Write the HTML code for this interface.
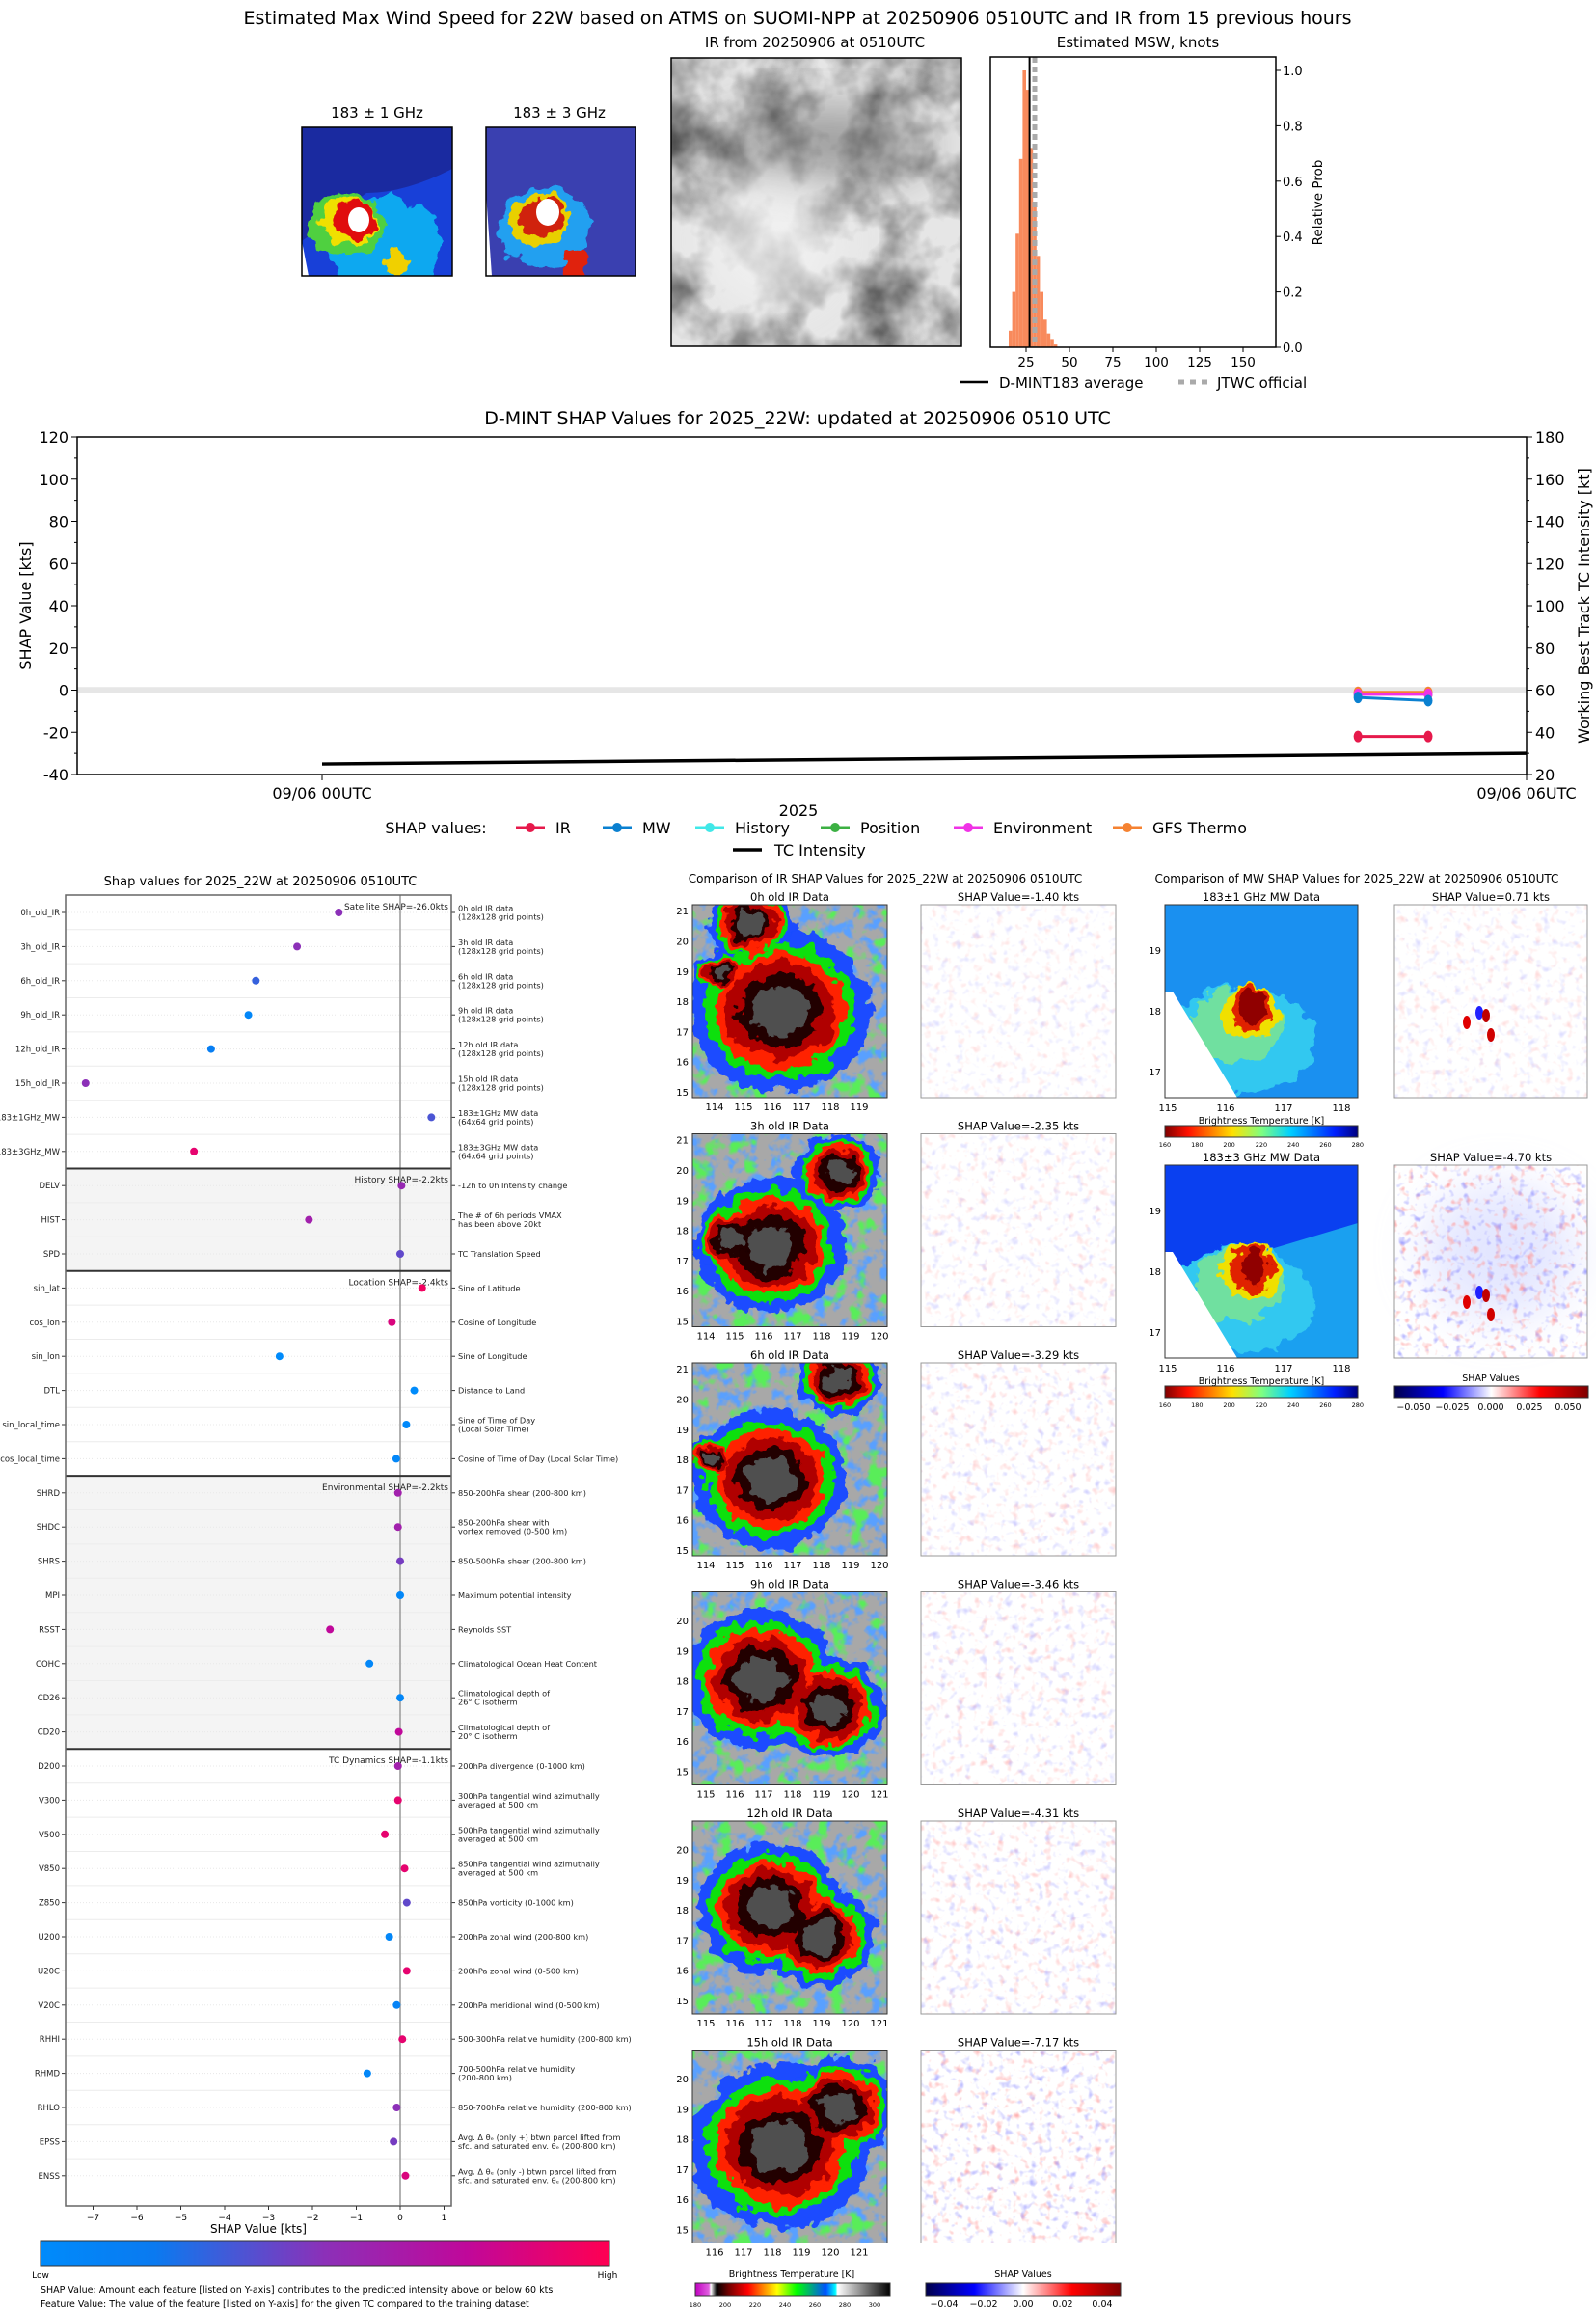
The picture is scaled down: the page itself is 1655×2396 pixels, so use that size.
<!DOCTYPE html>
<html><head><meta charset="utf-8"><style>
html,body{margin:0;padding:0;background:#fff}
svg{display:block;font-family:"DejaVu Sans","Liberation Sans",sans-serif}
</style></head><body>
<svg id="root" width="1655" height="2396" viewBox="0 0 1655 2396" xmlns="http://www.w3.org/2000/svg">
<defs>
 <filter id="rough" x="-20%" y="-20%" width="140%" height="140%">
  <feTurbulence type="fractalNoise" baseFrequency="0.06" numOctaves="3" seed="4" result="n"/>
  <feDisplacementMap in="SourceGraphic" in2="n" scale="22" xChannelSelector="R" yChannelSelector="G"/>
 </filter>
 <filter id="blur" x="-50%" y="-50%" width="200%" height="200%"><feGaussianBlur stdDeviation="25"/></filter>
 <filter id="cloud" x="0" y="0" width="100%" height="100%">
  <feTurbulence type="fractalNoise" baseFrequency="0.018" numOctaves="4" seed="9"/>
  <feColorMatrix type="matrix" values="0 0 0 0 0  0 0 0 0 0  0 0 0 0 0  -1.6 0 0 0 1.05"/>
 </filter>
 <filter id="bgblue" x="0" y="0" width="100%" height="100%">
  <feTurbulence type="fractalNoise" baseFrequency="0.07" numOctaves="3" seed="5"/>
  <feColorMatrix type="matrix" values="0 0 0 0 0.1  0 0 0 0 0.35  0 0 0 0 1  5 0 0 0 -2.4"/>
 </filter>
 <filter id="bggreen" x="0" y="0" width="100%" height="100%">
  <feTurbulence type="fractalNoise" baseFrequency="0.05" numOctaves="3" seed="12"/>
  <feColorMatrix type="matrix" values="0 0 0 0 0.1  0 0 0 0 0.85  0 0 0 0 0.1  6 0 0 0 -3.3"/>
 </filter>
 <filter id="speck" x="0" y="0" width="100%" height="100%">
  <feTurbulence type="fractalNoise" baseFrequency="0.12" numOctaves="2" seed="3"/>
  <feColorMatrix type="matrix" values="0 0 0 0 1  0 0 0 0 0.3  0 0 0 0 0.3  3 0 0 0 -1.75"/>
 </filter>
 <filter id="speckb" x="0" y="0" width="100%" height="100%">
  <feTurbulence type="fractalNoise" baseFrequency="0.12" numOctaves="2" seed="8"/>
  <feColorMatrix type="matrix" values="0 0 0 0 0.3  0 0 0 0 0.3  0 0 0 0 1  3 0 0 0 -1.75"/>
 </filter>
 <clipPath id="tmw1"><rect x="313" y="132" width="156" height="154"/></clipPath>
 <clipPath id="tmw3"><rect x="504" y="132" width="155" height="154"/></clipPath>
 <clipPath id="tir"><rect x="696" y="60" width="301" height="299"/></clipPath>
 <linearGradient id="shapcm" x1="0" x2="1"><stop offset="0" stop-color="#008bfb"/><stop offset="0.2" stop-color="#0a7af0"/><stop offset="0.5" stop-color="#8c30b8"/><stop offset="0.75" stop-color="#c0089a"/><stop offset="1" stop-color="#ff0052"/></linearGradient>
 <linearGradient id="jetr" x1="0" x2="1"><stop offset="0" stop-color="#800000"/><stop offset="0.12" stop-color="#ff1000"/><stop offset="0.35" stop-color="#ffe000"/><stop offset="0.5" stop-color="#80ff80"/><stop offset="0.65" stop-color="#00d0ff"/><stop offset="0.88" stop-color="#0020ff"/><stop offset="1" stop-color="#000080"/></linearGradient>
 <linearGradient id="seis" x1="0" x2="1"><stop offset="0" stop-color="#00004c"/><stop offset="0.25" stop-color="#0000ff"/><stop offset="0.5" stop-color="#ffffff"/><stop offset="0.75" stop-color="#ff0000"/><stop offset="1" stop-color="#800000"/></linearGradient>
 <linearGradient id="ircm" x1="0" x2="1"><stop offset="0" stop-color="#c000c0"/><stop offset="0.07" stop-color="#e060e0"/><stop offset="0.08" stop-color="#ffffff"/><stop offset="0.11" stop-color="#000000"/><stop offset="0.17" stop-color="#700000"/><stop offset="0.27" stop-color="#ff0000"/><stop offset="0.42" stop-color="#ffff00"/><stop offset="0.52" stop-color="#00ff00"/><stop offset="0.67" stop-color="#0050ff"/><stop offset="0.72" stop-color="#00ffff"/><stop offset="0.73" stop-color="#ffffff"/><stop offset="1" stop-color="#000000"/></linearGradient>
</defs>

<text x="827" y="25" font-size="19" text-anchor="middle">Estimated Max Wind Speed for 22W based on ATMS on SUOMI-NPP at 20250906 0510UTC and IR from 15 previous hours</text>

<g>
 <text x="391" y="122" font-size="15" text-anchor="middle">183 ± 1 GHz</text>
 <g clip-path="url(#tmw1)">
 <rect x="313" y="132" width="156" height="154" fill="#1840d8"/>
 <path d="M313 132 H469 V175 Q420 200 380 200 Q340 230 313 250 Z" fill="#1a2aa0"/>
 <g filter="url(#rough)"><ellipse cx="400" cy="255" rx="60" ry="50" fill="#10a8f0"/><ellipse cx="360" cy="232" rx="40" ry="32" fill="#50d040"/><ellipse cx="362" cy="230" rx="30" ry="25" fill="#f0e000"/><ellipse cx="368" cy="228" rx="22" ry="21" fill="#e01010"/><ellipse cx="410" cy="275" rx="10" ry="16" fill="#f0d000"/></g>
 <ellipse cx="372" cy="228" rx="11" ry="13" fill="#fff"/>
 <path d="M313 250 L320 286 L313 286Z" fill="#fff"/>
 </g>
 <rect x="313" y="132" width="156" height="154" fill="none" stroke="#000" stroke-width="1.5"/>
</g>
<g>
 <text x="580" y="122" font-size="15" text-anchor="middle">183 ± 3 GHz</text>
 <g clip-path="url(#tmw3)">
 <rect x="504" y="132" width="155" height="154" fill="#3a40b0"/>
 <g filter="url(#rough)"><ellipse cx="565" cy="235" rx="48" ry="42" fill="#20a0f0"/><ellipse cx="560" cy="228" rx="33" ry="27" fill="#e8d000"/><ellipse cx="562" cy="226" rx="25" ry="21" fill="#d02010"/><ellipse cx="595" cy="275" rx="12" ry="16" fill="#e02010"/></g>
 <ellipse cx="568" cy="220" rx="12" ry="14" fill="#fff"/>
 <path d="M504 200 L510 286 L504 286Z" fill="#fff"/>
 </g>
 <rect x="504" y="132" width="155" height="154" fill="none" stroke="#000" stroke-width="1.5"/>
</g>
<g>
 <text x="845" y="49" font-size="15" text-anchor="middle">IR from 20250906 at 0510UTC</text>
 <g clip-path="url(#tir)">
 <rect x="696" y="60" width="301" height="299" fill="#e6e6e6"/>
 <rect x="696" y="60" width="301" height="299" fill="#000" filter="url(#cloud)" opacity="0.7"/>
 <ellipse cx="850" cy="150" rx="120" ry="40" fill="#303030" opacity="0.4" filter="url(#blur)"/>
 <ellipse cx="800" cy="250" rx="70" ry="70" fill="#f4f4f4" opacity="0.7" filter="url(#blur)"/>
 </g>
 <rect x="696" y="60" width="301" height="299" fill="none" stroke="#000" stroke-width="1.5"/>
</g>
<g id="hist">
 <text x="1180" y="49" font-size="15" text-anchor="middle">Estimated MSW, knots</text>
</g>

<g id="tl">
 <text x="827" y="440" font-size="19" text-anchor="middle">D-MINT SHAP Values for 2025_22W: updated at 20250906 0510 UTC</text>
</g>

<g id="summ">
 <text x="270" y="918" font-size="13" text-anchor="middle">Shap values for 2025_22W at 20250906 0510UTC</text>
</g>

<g id="imgs">
 <text x="918" y="915" font-size="12" text-anchor="middle">Comparison of IR SHAP Values for 2025_22W at 20250906 0510UTC</text>
 <text x="1407" y="915" font-size="12" text-anchor="middle">Comparison of MW SHAP Values for 2025_22W at 20250906 0510UTC</text>
</g>
</svg>

<script>
const NS='http://www.w3.org/2000/svg';
function mk(tag,attrs,parent,txt){const e=document.createElementNS(NS,tag);for(const k in attrs)e.setAttribute(k,attrs[k]);if(txt!==undefined)e.textContent=txt;parent.appendChild(e);return e;}

/* ---------- histogram data ---------- */
const histBins=[15,17,19,21,23,25,27,29,31,33,35,37,39,41];
const histProb=[0.06,0.2,0.41,0.68,1.0,0.93,0.72,0.52,0.33,0.2,0.1,0.05,0.03,0.01];
const histXTicks=[25,50,75,100,125,150];
const histYTicks=[0.0,0.2,0.4,0.6,0.8,1.0];
const dmintAvg=27;
const jtwcOfficial=30;
(function(){
 const g=document.getElementById('hist');
 const L=1027,R=1323,T=59,B=360;
 const hx=v=>1019+v*1.8;
 const hy=p=>B-p*(B-73);
 histBins.forEach((b,i)=>{const r=mk('rect',{x:hx(b),y:hy(histProb[i]),width:1.8*2,height:B-hy(histProb[i]),fill:'#f88a5c'},g);
  
  });
 const a=mk('line',{x1:hx(dmintAvg),x2:hx(dmintAvg),y1:T,y2:B,stroke:'#000','stroke-width':2},g);
 
 
 const j=mk('line',{x1:hx(jtwcOfficial),x2:hx(jtwcOfficial),y1:T,y2:B,stroke:'#aaa','stroke-width':5,'stroke-dasharray':'6 4'},g);
 
 
 mk('rect',{x:L,y:T,width:R-L,height:B-T,fill:'none',stroke:'#000','stroke-width':1.5},g);
 histXTicks.forEach(t=>{mk('line',{x1:hx(t),x2:hx(t),y1:B,y2:B+5,stroke:'#000'},g);mk('text',{x:hx(t),y:B+20,'font-size':13.5,'text-anchor':'middle'},g,t);});
 histYTicks.forEach(t=>{mk('line',{x1:R,x2:R+5,y1:hy(t),y2:hy(t),stroke:'#000'},g);mk('text',{x:R+7,y:hy(t)+5,'font-size':13},g,t.toFixed(1));});
 mk('text',{x:1371,y:210,'font-size':13.5,'text-anchor':'middle',transform:'rotate(-90 1371 210)'},g,'Relative Prob');
 const l1=mk('line',{x1:995,x2:1025,y1:396,y2:396,stroke:'#000','stroke-width':2.5},g);
 
 
 mk('text',{x:1036,y:402,'font-size':15},g,'D-MINT183 average');
 const l2=mk('line',{x1:1222,x2:1252,y1:396,y2:396,stroke:'#aaa','stroke-width':5,'stroke-dasharray':'6 6'},g);
 
 
 mk('text',{x:1262,y:402,'font-size':15},g,'JTWC official');
})();

/* ---------- timeline data ---------- */
const tlTimesHr=[5.16,5.51];
const tlIR=[-22,-22];
const tlMW=[-3.5,-5];
const tlHistory=[-1.5,-1.5];
const tlPosition=[-1.8,-1.8];
const tlEnv=[-2,-2];
const tlGFS=[-1,-1];
const tcTimesHr=[0,6];
const tcIntensity=[25,30];
const tlLeftTicks=[120,100,80,60,40,20,0,-20,-40];
const tlRightTicks=[180,160,140,120,100,80,60,40,20];
const tlXTickLabels=['09/06 00UTC','09/06 06UTC'];
(function(){
 const g=document.getElementById('tl');
 const L=80,R=1583,T=453,B=803;
 const tx=h=>334+h*(R-334)/6;
 const ly=v=>T+(120-v)*(B-T)/160;
 const ry=v=>T+(180-v)*(B-T)/160;
 mk('rect',{x:L,y:ly(1.5),width:R-L,height:ly(-1.5)-ly(1.5),fill:'#e6e6e6'},g);
 mk('rect',{x:L,y:T,width:R-L,height:B-T,fill:'none',stroke:'#000','stroke-width':1.5},g);
 tlLeftTicks.forEach(t=>{mk('line',{x1:L-6,x2:L,y1:ly(t),y2:ly(t),stroke:'#000'},g);mk('text',{x:L-9,y:ly(t)+6,'font-size':16,'text-anchor':'end'},g,t);});
 for(let t=-30;t<=110;t+=20)mk('line',{x1:L-3,x2:L,y1:ly(t),y2:ly(t),stroke:'#000'},g);
 tlRightTicks.forEach(t=>{mk('line',{x1:R,x2:R+6,y1:ry(t),y2:ry(t),stroke:'#000'},g);mk('text',{x:R+9,y:ry(t)+6,'font-size':16},g,t);});
 for(let t=30;t<=170;t+=20)mk('line',{x1:R,x2:R+3,y1:ry(t),y2:ry(t),stroke:'#000'},g);
 [0,6].forEach((h,i)=>{mk('line',{x1:tx(h),x2:tx(h),y1:B,y2:B+6,stroke:'#000'},g);mk('text',{x:tx(h),y:B+25,'font-size':16,'text-anchor':'middle'},g,tlXTickLabels[i]);});
 mk('text',{x:828,y:846,'font-size':16,'text-anchor':'middle'},g,'2025');
 mk('text',{x:32,y:628,'font-size':16,'text-anchor':'middle',transform:'rotate(-90 32 628)'},g,'SHAP Value [kts]');
 mk('text',{x:1648,y:628,'font-size':16,'text-anchor':'middle',transform:'rotate(-90 1648 628)'},g,'Working Best Track TC Intensity [kt]');
 const tc=mk('polyline',{points:tcTimesHr.map((h,i)=>tx(h)+','+ry(tcIntensity[i])).join(' '),fill:'none',stroke:'#000','stroke-width':3.5},g);
 
 
 const series=[['position',tlPosition,'#3cb043'],['history',tlHistory,'#40e8e8'],['gfs-thermo',tlGFS,'#f58231'],['environment',tlEnv,'#f032e6'],['mw',tlMW,'#0a80d0'],['ir',tlIR,'#e6194b']];
 series.forEach(s=>{
  const p=mk('polyline',{points:tlTimesHr.map((h,i)=>tx(h)+','+ly(s[1][i])).join(' '),fill:'none',stroke:s[2],'stroke-width':3},g);
  
  
  tlTimesHr.forEach((h,i)=>{const c=mk('ellipse',{cx:tx(h),cy:ly(s[1][i]),rx:4.5,ry:6,fill:s[2]},g);
   
   });
 });
 mk('text',{x:452,y:864,'font-size':16,'text-anchor':'middle'},g,'SHAP values:');
 const leg=[['IR','#e6194b',550,576],['MW','#0a80d0',640,666],['History','#40e8e8',736,762],['Position','#3cb043',866,892],['Environment','#f032e6',1004,1030],['GFS Thermo','#f58231',1169,1195]];
 leg.forEach(l=>{const lg=mk('g',{},g);
  
  
  mk('line',{x1:l[2]-15,x2:l[2]+15,y1:858,y2:858,stroke:l[1],'stroke-width':3},lg);
  mk('circle',{cx:l[2],cy:858,r:5,fill:l[1]},lg);
  mk('text',{x:l[3],y:864,'font-size':16},lg,l[0]);});
 const tl=mk('line',{x1:760,x2:790,y1:881,y2:881,stroke:'#000','stroke-width':3.5},g);
 
 
 mk('text',{x:803,y:887,'font-size':16},g,'TC Intensity');
})();

/* ---------- summary plot data ---------- */
const featNames=['0h_old_IR','3h_old_IR','6h_old_IR','9h_old_IR','12h_old_IR','15h_old_IR','183±1GHz_MW','183±3GHz_MW','DELV','HIST','SPD','sin_lat','cos_lon','sin_lon','DTL','sin_local_time','cos_local_time','SHRD','SHDC','SHRS','MPI','RSST','COHC','CD26','CD20','D200','V300','V500','V850','Z850','U200','U20C','V20C','RHHI','RHMD','RHLO','EPSS','ENSS'];
const shapVals=[-1.40,-2.35,-3.29,-3.46,-4.31,-7.17,0.71,-4.70,0.03,-2.08,0.0,0.5,-0.19,-2.75,0.32,0.14,-0.09,-0.05,-0.05,0.0,0.0,-1.6,-0.7,0.0,-0.03,-0.05,-0.05,-0.35,0.1,0.15,-0.25,0.15,-0.08,0.05,-0.75,-0.08,-0.15,0.12];
const featValFrac=[0.5,0.5,0.3,0.05,0.15,0.5,0.35,0.9,0.55,0.6,0.4,0.95,0.85,0.0,0.0,0.02,0.05,0.6,0.6,0.45,0.05,0.75,0.05,0.05,0.75,0.6,0.9,0.9,0.9,0.4,0.05,0.9,0.1,0.9,0.05,0.5,0.45,0.85];
const featDesc=[['0h old IR data','(128x128 grid points)'],['3h old IR data','(128x128 grid points)'],['6h old IR data','(128x128 grid points)'],['9h old IR data','(128x128 grid points)'],['12h old IR data','(128x128 grid points)'],['15h old IR data','(128x128 grid points)'],['183±1GHz MW data','(64x64 grid points)'],['183±3GHz MW data','(64x64 grid points)'],['-12h to 0h Intensity change'],['The # of 6h periods VMAX','has been above 20kt'],['TC Translation Speed'],['Sine of Latitude'],['Cosine of Longitude'],['Sine of Longitude'],['Distance to Land'],['Sine of Time of Day','(Local Solar Time)'],['Cosine of Time of Day (Local Solar Time)'],['850-200hPa shear (200-800 km)'],['850-200hPa shear with','vortex removed (0-500 km)'],['850-500hPa shear (200-800 km)'],['Maximum potential intensity'],['Reynolds SST'],['Climatological Ocean Heat Content'],['Climatological depth of','26° C isotherm'],['Climatological depth of','20° C isotherm'],['200hPa divergence (0-1000 km)'],['300hPa tangential wind azimuthally','averaged at 500 km'],['500hPa tangential wind azimuthally','averaged at 500 km'],['850hPa tangential wind azimuthally','averaged at 500 km'],['850hPa vorticity (0-1000 km)'],['200hPa zonal wind (200-800 km)'],['200hPa zonal wind (0-500 km)'],['200hPa meridional wind (0-500 km)'],['500-300hPa relative humidity (200-800 km)'],['700-500hPa relative humidity','(200-800 km)'],['850-700hPa relative humidity (200-800 km)'],['Avg. Δ θₑ (only +) btwn parcel lifted from','sfc. and saturated env. θₑ (200-800 km)'],['Avg. Δ θₑ (only -) btwn parcel lifted from','sfc. and saturated env. θₑ (200-800 km)']];
const groupStarts=[0,8,11,17,25];
const groupTitles=['Satellite SHAP=-26.0kts','History SHAP=-2.2kts','Location SHAP=-2.4kts','Environmental SHAP=-2.2kts','TC Dynamics SHAP=-1.1kts'];
const summXTicks=[-7,-6,-5,-4,-3,-2,-1,0,1];
(function(){
 const g=document.getElementById('summ');
 const L=68,R=468,T=928,B=2287;
 const sx=v=>415+v*45.5;
 const ry=i=>946+i*35.4;
 const bnd=i=>i===0?T:(i>=38?B:ry(i)-17.7);
 [[8,11],[17,25]].forEach(a=>mk('rect',{x:L,y:bnd(a[0]),width:R-L,height:bnd(a[1])-bnd(a[0]),fill:'#f4f4f4'},g));
 featNames.forEach((n,i)=>{
  mk('line',{x1:L,x2:R,y1:ry(i),y2:ry(i),stroke:'#e8e8e8','stroke-dasharray':'1 2'},g);
  if(i>0)mk('line',{x1:L,x2:R,y1:bnd(i),y2:bnd(i),stroke:'#ececec'},g);
  mk('line',{x1:L-4,x2:L,y1:ry(i),y2:ry(i),stroke:'#333'},g);
  mk('text',{x:L-6,y:ry(i)+3,'font-size':8.5,'text-anchor':'end',fill:'#222'},g,n);
  mk('line',{x1:R,x2:R+4,y1:ry(i),y2:ry(i),stroke:'#333'},g);
  const d=featDesc[i];
  if(d.length===1)mk('text',{x:R+7,y:ry(i)+3,'font-size':8.2,fill:'#222'},g,d[0]);
  else{mk('text',{x:R+7,y:ry(i)-1.5,'font-size':8.2,fill:'#222'},g,d[0]);mk('text',{x:R+7,y:ry(i)+7.5,'font-size':8.2,fill:'#222'},g,d[1]);}
 });
 mk('line',{x1:sx(0),x2:sx(0),y1:T,y2:B,stroke:'#999','stroke-width':1.5},g);
 groupStarts.forEach((s,k)=>{
  if(k>0)mk('line',{x1:L,x2:R,y1:bnd(s),y2:bnd(s),stroke:'#333','stroke-width':2},g);
  mk('text',{x:R-3,y:ry(s)-3,'font-size':9,'text-anchor':'end',fill:'#222'},g,groupTitles[k]);
 });
 const col=f=>{const st=[[0,[0,139,251]],[0.2,[10,122,240]],[0.5,[140,48,184]],[0.75,[192,8,154]],[1,[255,0,82]]];
  for(let k=1;k<st.length;k++)if(f<=st[k][0]){const t=(f-st[k-1][0])/(st[k][0]-st[k-1][0]);const c=st[k-1][1].map((v,j)=>Math.round(v+(st[k][1][j]-v)*t));return 'rgb('+c.join(',')+')';}
  return '#ff0052';};
 shapVals.forEach((v,i)=>{const c=mk('circle',{cx:sx(v),cy:ry(i),r:4,fill:col(featValFrac[i])},g);
  
  });
 mk('rect',{x:L,y:T,width:R-L,height:B-T,fill:'none',stroke:'#666','stroke-width':1.5},g);
 summXTicks.forEach(t=>{mk('line',{x1:sx(t),x2:sx(t),y1:B,y2:B+4,stroke:'#333'},g);mk('text',{x:sx(t),y:B+15,'font-size':9,'text-anchor':'middle'},g,t<0?'−'+Math.abs(t):String(t));});
 mk('text',{x:268,y:B+28,'font-size':12,'text-anchor':'middle'},g,'SHAP Value [kts]');
 const cb=mk('rect',{x:42,y:2323,width:590,height:26,fill:'url(#shapcm)',stroke:'#333'},g);
 
 
 mk('text',{x:42,y:2362,'font-size':9,'text-anchor':'middle'},g,'Low');
 mk('text',{x:630,y:2362,'font-size':9,'text-anchor':'middle'},g,'High');
 mk('text',{x:42,y:2377,'font-size':9.5},g,'SHAP Value: Amount each feature [listed on Y-axis] contributes to the predicted intensity above or below 60 kts');
 mk('text',{x:42,y:2392,'font-size':9.5},g,'Feature Value: The value of the feature [listed on Y-axis] for the given TC compared to the training dataset');
})();

/* ---------- image panels ---------- */
const irTitles=['0h old IR Data','3h old IR Data','6h old IR Data','9h old IR Data','12h old IR Data','15h old IR Data'];
const irShap=['-1.40','-2.35','-3.29','-3.46','-4.31','-7.17'];
const irLonStart=[114,114,114,115,115,116];
const irLonCount=[6,7,7,7,7,6];
const irLatTop=[21,21,21,20,20,20];
(function(){
 const g=document.getElementById('imgs');
 const X=718,W=202,H=200,SX=955;
 const storms=[
  [[0.45,0.55,0.42],[0.3,0.1,0.2],[0.15,0.35,0.12]],
  [[0.4,0.58,0.35],[0.75,0.2,0.2],[0.2,0.55,0.18]],
  [[0.4,0.6,0.36],[0.75,0.08,0.2],[0.1,0.5,0.12]],
  [[0.35,0.45,0.36],[0.7,0.6,0.26]],
  [[0.4,0.45,0.34],[0.65,0.6,0.26]],
  [[0.45,0.5,0.42],[0.75,0.3,0.26]]];
 const rings=[[1,'#1a4cff'],[0.84,'#10e010'],[0.72,'#ff2000'],[0.6,'#b00000'],[0.46,'#200000'],[0.32,'#505050']];
 for(let i=0;i<6;i++){
  const y=938+i*237.5;
  const p=mk('g',{},g);
  
  
  mk('text',{x:X+W/2,y:y-4,'font-size':11.5,'text-anchor':'middle'},p,irTitles[i]);
  const cid='c'+i;const cp=mk('clipPath',{id:cid},p);mk('rect',{x:X,y:y,width:W,height:H},cp);
  const inner=mk('g',{'clip-path':'url(#'+cid+')'},p);
  mk('rect',{x:X,y:y,width:W,height:H,fill:'#a8a8a8'},inner);
  mk('rect',{x:X,y:y,width:W,height:H,fill:'#000',filter:'url(#bgblue)'},inner);
  mk('rect',{x:X,y:y,width:W,height:H,fill:'#000',filter:'url(#bggreen)'},inner);
  const rg=mk('g',{filter:'url(#rough)'},inner);
  rings.forEach(r=>storms[i].forEach(s=>mk('ellipse',{cx:X+s[0]*W,cy:y+s[1]*H,rx:s[2]*W*r[0]*1.1,ry:s[2]*H*r[0],fill:r[1]},rg)));
  mk('rect',{x:X,y:y,width:W,height:H,fill:'none',stroke:'#333'},p);
  for(let k=0;k<irLonCount[i];k++){const lon=irLonStart[i]+k;const xx=X+14+k*30+(i===0||i===5?9:0);mk('text',{x:xx,y:y+H+13,'font-size':10,'text-anchor':'middle'},p,lon);}
  const nl=irLatTop[i]-14;
  for(let k=0;k<nl;k++){mk('text',{x:X-4,y:y+H-2-k*31.3+(i<3?0:-8),'font-size':10,'text-anchor':'end'},p,15+k);}
  const s=mk('g',{},g);
  
  
  mk('text',{x:SX+W/2,y:y-4,'font-size':11.5,'text-anchor':'middle'},s,'SHAP Value='+irShap[i]+' kts');
  mk('rect',{x:SX,y:y,width:W,height:H,fill:'#fff'},s);
  const op=Math.min(0.9,0.2+Math.abs(parseFloat(irShap[i]))*0.08);
  mk('rect',{x:SX,y:y,width:W,height:H,fill:'#000',filter:'url(#speck)',opacity:op},s);
  mk('rect',{x:SX,y:y,width:W,height:H,fill:'#000',filter:'url(#speckb)',opacity:op},s);
  mk('rect',{x:SX,y:y,width:W,height:H,fill:'none',stroke:'#999'},s);
 }
 const mwT=['183±1 GHz MW Data','183±3 GHz MW Data'];const mwS=['0.71','-4.70'];
 [938,1208].forEach((y,i)=>{
  const X2=1208,SX2=1446;
  const p=mk('g',{},g);
  
  
  mk('text',{x:X2+100,y:y-4,'font-size':11.5,'text-anchor':'middle'},p,mwT[i]);
  const cid='m'+i;const cp=mk('clipPath',{id:cid},p);mk('rect',{x:X2,y:y,width:200,height:200},cp);
  const inner=mk('g',{'clip-path':'url(#'+cid+')'},p);
  mk('rect',{x:X2,y:y,width:200,height:200,fill:i?'#0a40f0':'#1a90f0'},inner);
  if(i)mk('path',{d:'M'+X2+' '+(y+120)+' L'+(X2+200)+' '+(y+60)+' L'+(X2+200)+' '+(y+200)+' L'+X2+' '+(y+200)+'Z',fill:'#1aa0f0'},inner);
  const rg=mk('g',{filter:'url(#rough)'},inner);
  mk('ellipse',{cx:X2+80,cy:y+140,rx:75,ry:55,fill:'#30c8f0'},rg);
  mk('ellipse',{cx:X2+75,cy:y+125,rx:48,ry:38,fill:'#70e0a0'},rg);
  mk('ellipse',{cx:X2+88,cy:y+110,rx:30,ry:28,fill:'#f0e000'},rg);
  mk('ellipse',{cx:X2+90,cy:y+108,rx:22,ry:24,fill:'#e02000'},rg);
  mk('ellipse',{cx:X2+92,cy:y+106,rx:14,ry:18,fill:'#900000'},rg);
  mk('path',{d:'M'+X2+' '+(y+90)+' L'+(X2+8)+' '+(y+90)+' L'+(X2+75)+' '+(y+200)+' L'+X2+' '+(y+200)+'Z',fill:'#fff'},inner);
  mk('rect',{x:X2,y:y,width:200,height:200,fill:'none',stroke:'#333'},p);
  [[19,47],[18,110],[17,173]].forEach(t=>mk('text',{x:X2-4,y:y+t[1]+4,'font-size':10,'text-anchor':'end'},p,t[0]));
  [115,116,117,118].forEach((t,k)=>mk('text',{x:X2+3+k*60,y:y+214,'font-size':10,'text-anchor':'middle'},p,t));
  mk('text',{x:X2+100,y:y+227,'font-size':9.5,'text-anchor':'middle'},p,'Brightness Temperature [K]');
  mk('rect',{x:X2,y:y+229,width:200,height:12,fill:'url(#jetr)',stroke:'#333'},p);
  [160,180,200,220,240,260,280].forEach((t,k)=>mk('text',{x:X2+k*33.3,y:y+251,'font-size':6.5,'text-anchor':'middle'},p,t));
  const s=mk('g',{},g);
  
  
  mk('text',{x:SX2+100,y:y-4,'font-size':11.5,'text-anchor':'middle'},s,'SHAP Value='+mwS[i]+' kts');
  mk('rect',{x:SX2,y:y,width:200,height:200,fill:'#fff'},s);
  if(i)mk('ellipse',{cx:SX2+110,cy:y+90,rx:80,ry:70,fill:'#c8ceff',opacity:0.5,filter:'url(#blur)'},s);
  mk('rect',{x:SX2,y:y,width:200,height:200,fill:'#000',filter:'url(#speck)',opacity:i?0.9:0.35},s);
  mk('rect',{x:SX2,y:y,width:200,height:200,fill:'#000',filter:'url(#speckb)',opacity:i?0.9:0.35},s);
  [[75,122,'#e00000'],[88,112,'#2020ff'],[95,115,'#c00000'],[100,135,'#d00000']].forEach(b=>mk('ellipse',{cx:SX2+b[0],cy:y+b[1]+(i?20:0),rx:4,ry:7,fill:b[2]},s));
  mk('rect',{x:SX2,y:y,width:200,height:200,fill:'none',stroke:'#999'},s);
 });
 mk('text',{x:1546,y:1432,'font-size':9.5,'text-anchor':'middle'},g,'SHAP Values');
 mk('rect',{x:1446,y:1437,width:201,height:12,fill:'url(#seis)',stroke:'#333'},g);
 ['−0.050','−0.025','0.000','0.025','0.050'].forEach((t,k)=>mk('text',{x:1466+k*40,y:1462,'font-size':9.5,'text-anchor':'middle'},g,t));
 mk('text',{x:821,y:2361,'font-size':9.5,'text-anchor':'middle'},g,'Brightness Temperature [K]');
 mk('rect',{x:721,y:2367,width:202,height:13,fill:'url(#ircm)',stroke:'#333'},g);
 [180,200,220,240,260,280,300].forEach((t,k)=>mk('text',{x:721+k*31,y:2392,'font-size':6.5,'text-anchor':'middle'},g,t));
 mk('text',{x:1061,y:2361,'font-size':9.5,'text-anchor':'middle'},g,'SHAP Values');
 mk('rect',{x:960,y:2367,width:202,height:13,fill:'url(#seis)',stroke:'#333'},g);
 ['−0.04','−0.02','0.00','0.02','0.04'].forEach((t,k)=>mk('text',{x:979+k*41,y:2392,'font-size':9.5,'text-anchor':'middle'},g,t));
})();
</script>
</body></html>
